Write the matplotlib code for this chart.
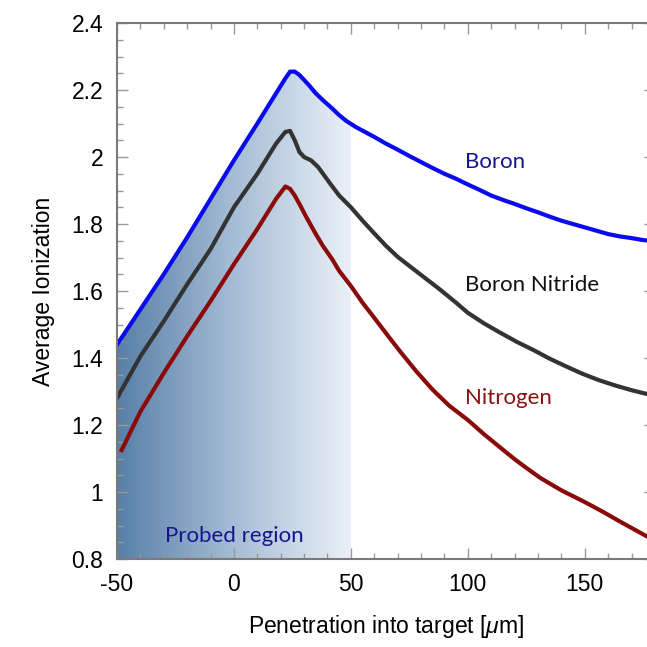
import numpy as np
import matplotlib
matplotlib.use("Agg")
import matplotlib.pyplot as plt
from matplotlib.colors import LinearSegmentedColormap
from matplotlib.patches import Polygon
from matplotlib.ticker import MultipleLocator, FuncFormatter

plt.rcParams["font.family"] = ["Liberation Sans", "DejaVu Sans"]
plt.rcParams["axes.unicode_minus"] = False
plt.rcParams["mathtext.fontset"] = "custom"
plt.rcParams["mathtext.it"] = "Liberation Sans:italic"
plt.rcParams["mathtext.rm"] = "Liberation Sans"

# Average ionization vs. penetration depth (um)
boron_x = [-50, -40, -30, -20, -10, 0, 10, 18, 22, 24, 26, 28, 30, 32, 35, 38, 42,
           45, 48, 52, 56, 60, 65, 70, 75, 80, 85, 90, 95, 100, 105, 110, 115, 120,
           125, 130, 135, 140, 145, 150, 155, 160, 165, 170, 175, 178]
boron_y = [1.44, 1.545, 1.65, 1.76, 1.875, 1.99, 2.10, 2.19, 2.235, 2.255, 2.255,
           2.245, 2.23, 2.215, 2.19, 2.17, 2.145, 2.125, 2.108, 2.09, 2.075, 2.06,
           2.04, 2.022, 2.003, 1.985, 1.967, 1.95, 1.935, 1.918, 1.902, 1.885, 1.872,
           1.86, 1.847, 1.835, 1.822, 1.81, 1.80, 1.79, 1.78, 1.77, 1.763, 1.758,
           1.752, 1.75]

bn_x = [-50, -40, -30, -20, -10, 0, 10, 18, 22, 24, 26, 28, 30, 33, 36, 41, 45, 50,
        55, 60, 65, 70, 75, 80, 88, 95, 100, 107, 114, 121, 128, 135, 142, 149,
        156, 163, 170, 178]
bn_y = [1.28, 1.405, 1.51, 1.62, 1.725, 1.85, 1.95, 2.04, 2.075, 2.078, 2.05,
        2.015, 2.0, 1.99, 1.97, 1.922, 1.885, 1.85, 1.81, 1.772, 1.735, 1.702,
        1.675, 1.648, 1.605, 1.565, 1.535, 1.503, 1.475, 1.448, 1.424, 1.398,
        1.375, 1.353, 1.334, 1.318, 1.304, 1.29]

nitrogen_x = [-48, -40, -30, -20, -10, 0, 10, 18, 22, 24, 26, 28, 31, 35, 38, 42,
              45, 50, 55, 60, 66, 71, 78, 85, 92, 100, 107, 114, 120, 125, 131, 140,
              150, 158, 165, 172, 178]
nitrogen_y = [1.125, 1.24, 1.355, 1.465, 1.57, 1.68, 1.785, 1.875, 1.912, 1.905,
              1.885, 1.86, 1.82, 1.77, 1.735, 1.695, 1.66, 1.615, 1.565, 1.52, 1.465,
              1.42, 1.36, 1.305, 1.258, 1.215, 1.172, 1.132, 1.098, 1.072, 1.042, 1.005,
              0.97, 0.94, 0.912, 0.885, 0.862]

probed_range = (-50, 50)
x_ticks = [-50, 0, 50, 100, 150]
y_ticks = [0.8, 1.0, 1.2, 1.4, 1.6, 1.8, 2.0, 2.2, 2.4]

fig = plt.figure(figsize=(6.47, 6.47), dpi=100)
ax = fig.add_axes([0.1808, 0.136, 0.8315, 0.8284])
ax.set_xlim(-50, 180)
ax.set_ylim(0.8, 2.4)

# Shaded probed region: horizontal gradient beneath the boron curve
cmap = LinearSegmentedColormap.from_list("probe", ["#587fa8", "#a6bdd5", "#eaf0f8"])
grad = np.linspace(0, 1, 256).reshape(1, -1)
img = ax.imshow(grad, cmap=cmap, aspect="auto", origin="lower",
                extent=[probed_range[0], probed_range[1], 0.8, 2.4], zorder=1,
                interpolation="bilinear")
bx = np.array(boron_x, dtype=float)
by = np.array(boron_y, dtype=float)
mask = bx < probed_range[1]
edge_y = np.interp(probed_range[1], bx, by)
poly_x = np.concatenate([[probed_range[0]], bx[mask], [probed_range[1], probed_range[1], probed_range[0]]])
poly_y = np.concatenate([[0.8], by[mask], [edge_y, 0.8, 0.8]])
clip = Polygon(np.column_stack([poly_x, poly_y]), closed=True, transform=ax.transData,
               facecolor="none", edgecolor="none")
ax.add_patch(clip)
img.set_clip_path(clip)

ax.plot(boron_x, boron_y, color="#0a0aee", lw=3.0, zorder=3, solid_joinstyle="round")
ax.plot(bn_x, bn_y, color="#333333", lw=3.0, zorder=3, solid_joinstyle="round")
ax.plot(nitrogen_x, nitrogen_y, color="#8a0a0a", lw=3.0, zorder=3, solid_joinstyle="round")

lab_font = dict(family=["Lato", "DejaVu Sans"], fontsize=16, va="center", ha="left", zorder=4)
ax.text(98.7, 1.985, "Boron", color="#16168c", **lab_font)
ax.text(98.7, 1.618, "Boron Nitride", color="#111111", **lab_font)
ax.text(98.7, 1.28, "Nitrogen", color="#8a1212", **lab_font)
ax.text(-29.5, 0.869, "Probed region", color="#16168c", **lab_font)

ax.set_xticks(x_ticks)
ax.set_yticks(y_ticks)
ax.xaxis.set_minor_locator(MultipleLocator(10))
ax.yaxis.set_minor_locator(MultipleLocator(0.05))
ax.yaxis.set_major_formatter(FuncFormatter(lambda v, p: f"{v:g}"))
ax.xaxis.set_major_formatter(FuncFormatter(lambda v, p: f"{v:g}"))
ax.tick_params(which="both", direction="in", top=True, right=True, color="#999999", width=1.0)
ax.tick_params(which="major", length=8, labelsize=16.5, pad=10)
ax.tick_params(which="minor", length=4)
for sp in ax.spines.values():
    sp.set_color("#7a7a7a")
    sp.set_linewidth(1.5)
    sp.set_zorder(5)

ax.set_xlabel(r"Penetration into target [$\mu$m]", fontsize=16.5, labelpad=12)
ax.set_ylabel("Average Ionization", fontsize=16.5, labelpad=12)

fig.savefig("out.png", dpi=100)
